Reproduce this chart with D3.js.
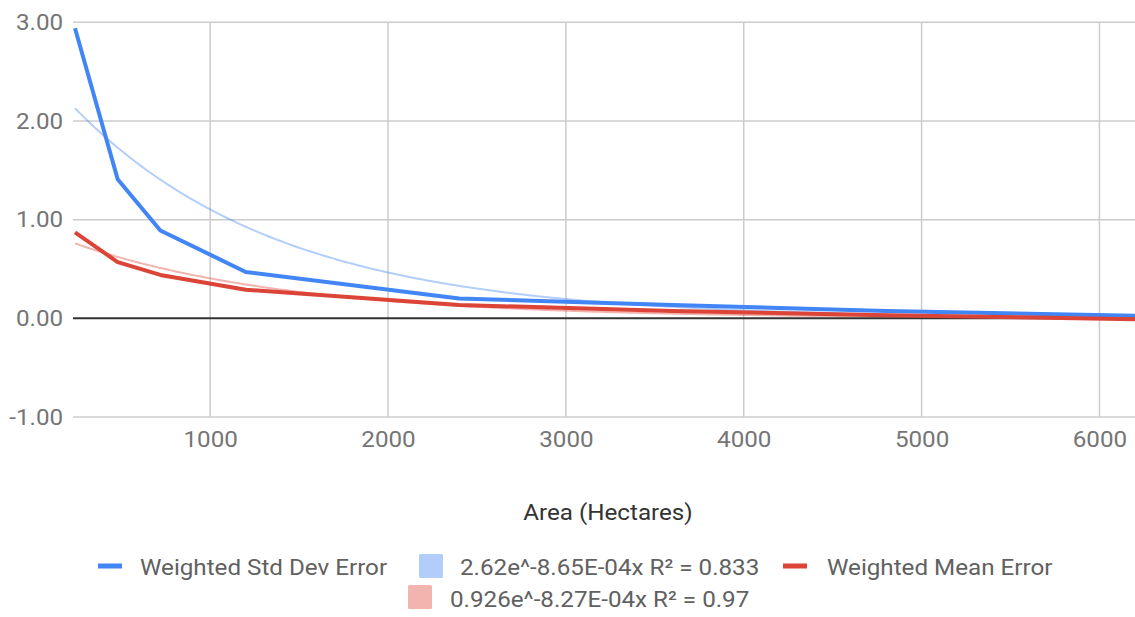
<!DOCTYPE html>
<html><head><meta charset="utf-8">
<script src="https://cdn.jsdelivr.net/npm/d3@7"></script>
<style>body{margin:0;background:#fff;}svg{display:block;font-family:Roboto,"Noto Sans",sans-serif;}</style>
</head><body>
<svg id="c" width="1135" height="617"></svg>
<script>
// ---- data ----
const areas = [240, 480, 720, 1200, 2400, 3600, 4800, 6200];
const stdDevError = [2.94, 1.41, 0.89, 0.47, 0.20, 0.135, 0.075, 0.025];
const meanError = [0.87, 0.57, 0.44, 0.29, 0.135, 0.075, 0.032, -0.01];
// exponential trendlines (coefficients as shown in legend)
const stdTrend = [2.62, -8.65e-4];
const meanTrend = [0.926, -8.27e-4];
const xTicks = [1000, 2000, 3000, 4000, 5000, 6000];
const yTicks = [-1, 0, 1, 2, 3];
const legendLabels = ["Weighted Std Dev Error", "2.62e^-8.65E-04x R\u00B2 = 0.833", "Weighted Mean Error", "0.926e^-8.27E-04x R\u00B2 = 0.97"];
const xTitle = "Area (Hectares)";

const SX = 1.1, FS = 22;
const svg = d3.select("#c");
const L = 75, R = 1135, T = 22.3, B = 417;
const x = d3.scaleLinear().domain([240, 6200]).range([L, R]);
const y = d3.scaleLinear().domain([-1, 3]).range([B, T]);
const loc = d3.formatLocale({decimal: ".", thousands: ",", grouping: [3], currency: ["$", ""], minus: "-"});

// gridlines
svg.append("g").selectAll("line").data(xTicks).join("line")
  .attr("x1", d => x(d)).attr("x2", d => x(d)).attr("y1", T).attr("y2", B)
  .attr("stroke", "#cccccc").attr("stroke-width", 1.5);
svg.append("g").selectAll("line").data(yTicks.filter(d => d !== 0)).join("line")
  .attr("x1", L - 2).attr("x2", R).attr("y1", d => y(d)).attr("y2", d => y(d))
  .attr("stroke", "#cccccc").attr("stroke-width", 1.5);

// axes labels via d3 axis
const yAxis = svg.append("g").attr("transform", `translate(${L - 2},0)`)
  .call(d3.axisLeft(y).tickValues(yTicks).tickFormat(loc.format(".2f")).tickSize(0).tickPadding(9));
yAxis.select(".domain").remove();
yAxis.selectAll("text").attr("font-size", FS).attr("fill", "#757575").attr("font-family", "Roboto")
  .attr("transform", `scale(${SX},1)`);

const xAxis = svg.append("g").attr("transform", `translate(0,${B})`)
  .call(d3.axisBottom(x).tickValues(xTicks).tickFormat(loc.format("d")).tickSize(0).tickPadding(14));
xAxis.select(".domain").remove();
xAxis.selectAll("text").attr("font-size", FS).attr("fill", "#757575").attr("font-family", "Roboto")
  .attr("transform", `scale(${SX},1)`);

function txt(g, xp, yp, s, anchor, fill) {
  return g.append("text").attr("transform", `translate(${xp},${yp}) scale(${SX},1)`)
    .attr("text-anchor", anchor || "start").attr("font-size", FS).attr("fill", fill).text(s);
}
txt(svg, 608, 520, xTitle, "middle", "#333");

// trendlines
const trendX = d3.range(240, 6201, 20);
const line = d3.line().x(d => x(d[0])).y(d => y(d[1]));
svg.append("path").datum(trendX.map(v => [v, stdTrend[0] * Math.exp(stdTrend[1] * v)]))
  .attr("d", line).attr("fill", "none").attr("stroke", "#4285f4").attr("stroke-opacity", 0.4).attr("stroke-width", 2);
svg.append("path").datum(trendX.map(v => [v, meanTrend[0] * Math.exp(meanTrend[1] * v)]))
  .attr("d", line).attr("fill", "none").attr("stroke", "#db4437").attr("stroke-opacity", 0.4).attr("stroke-width", 2);

// zero line
svg.append("line").attr("x1", L - 2).attr("x2", R).attr("y1", y(0)).attr("y2", y(0))
  .attr("stroke", "#333").attr("stroke-width", 2);

// data lines
svg.append("path").datum(areas.map((a, i) => [a, stdDevError[i]]))
  .attr("d", line).attr("fill", "none").attr("stroke", "#4285f4").attr("stroke-width", 4).attr("stroke-linejoin", "round");
svg.append("path").datum(areas.map((a, i) => [a, meanError[i]]))
  .attr("d", line).attr("fill", "none").attr("stroke", "#db4437").attr("stroke-width", 4).attr("stroke-linejoin", "round");

// legend
const lg = svg.append("g");
function swLine(xp, yp, c) { lg.append("rect").attr("x", xp).attr("y", yp - 2.5).attr("width", 24).attr("height", 5).attr("fill", c); }
function swBox(xp, yp, c) { lg.append("rect").attr("x", xp).attr("y", yp).attr("width", 24).attr("height", 24).attr("rx", 1.5).attr("fill", c); }
swLine(98, 566, "#4285f4");
txt(lg, 140, 575, legendLabels[0], "start", "#616161");
swBox(419, 554, "#b3cdfb");
txt(lg, 460, 575, legendLabels[1], "start", "#616161");
swLine(783, 566, "#db4437");
txt(lg, 827, 575, legendLabels[2], "start", "#616161");
swBox(408, 585, "#f1b4ae");
txt(lg, 450, 607, legendLabels[3], "start", "#616161");
</script>
</body></html>
